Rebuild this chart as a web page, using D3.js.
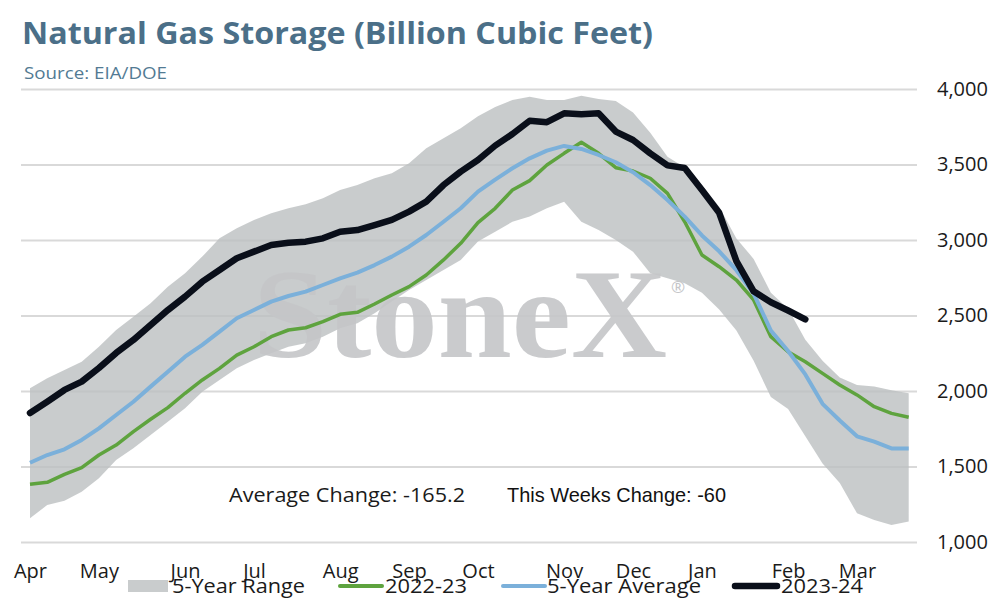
<!DOCTYPE html>
<html>
  <head>
    <meta charset="utf-8">
    <title>Natural Gas Storage</title>
    <script src="https://cdn.jsdelivr.net/npm/d3@7"></script>
    <style>
      body { margin: 0; background: #fff; }
      text { font-family: "Open Sans", sans-serif; }
    </style>
  </head>
  <body>
    <svg id="chart" width="995" height="607"></svg>
    <script>

      // Weekly storage, Bcf. Week 0 = first week of April
      var weeks = d3.range(52);

      var rangeLow = [1157, 1245, 1274, 1333, 1422, 1543, 1621, 1709, 1797, 1885,
        1995, 2073, 2150, 2205, 2250, 2293, 2316, 2360, 2415, 2448,
        2515, 2592, 2669, 2735, 2801, 2868, 2990, 3055, 3121, 3155,
        3210, 3254, 3121, 3066, 3000, 2923, 2779, 2746, 2713, 2650,
        2540, 2400, 2200, 1960, 1880, 1700, 1520, 1390, 1190, 1145,
        1113, 1135];

      var rangeHigh = [2018, 2084, 2139, 2194, 2293, 2404, 2492, 2581, 2691, 2779,
        2890, 3011, 3077, 3133, 3177, 3210, 3236, 3276, 3331, 3364,
        3409, 3442, 3508, 3607, 3674, 3740, 3820, 3880, 3927, 3949,
        3927, 3927, 3956, 3934, 3920, 3845, 3710, 3552, 3480, 3364,
        3220, 3010, 2875, 2650, 2545, 2340, 2200, 2090, 2040, 2030,
        2005, 1985];

      var avg5 = [1525, 1576, 1614, 1676, 1753, 1841, 1929, 2029, 2128, 2227,
        2305, 2393, 2482, 2536, 2592, 2629, 2658, 2702, 2746, 2784,
        2834, 2890, 2956, 3033, 3121, 3210, 3320, 3400, 3475, 3541,
        3592, 3623, 3603, 3563, 3515, 3449, 3364, 3265, 3155, 3030,
        2925, 2800, 2645, 2400, 2265, 2110, 1915, 1805, 1700, 1665,
        1620, 1620];

      var s2223 = [1382, 1395, 1448, 1492, 1576, 1642, 1731, 1813, 1890, 1985,
        2073, 2150, 2238, 2293, 2360, 2404, 2419, 2459, 2508, 2521,
        2576, 2636, 2691, 2768, 2868, 2978, 3115, 3210, 3331, 3393,
        3497, 3574, 3647, 3574, 3479, 3457, 3409, 3309, 3121, 2901,
        2823, 2735, 2603, 2360, 2260, 2194, 2117, 2040, 1974, 1896,
        1852, 1826];

      var s2324 = [1854, 1929, 2007, 2062, 2152, 2252, 2338, 2437, 2536, 2625,
        2724, 2801, 2879, 2923, 2967, 2982, 2989, 3011, 3055, 3066,
        3099, 3133, 3188, 3254, 3364, 3453, 3530, 3625, 3702, 3790,
        3780, 3839, 3833, 3839, 3718, 3662, 3574, 3494, 3477, 3331,
        3180, 2860, 2660, 2588, 2533, 2475];

      var monthLabels = ["Apr", "May", "Jun", "Jul", "Aug", "Sep", "Oct", "Nov", "Dec", "Jan", "Feb", "Mar"];
      var monthWeeks = [0, 4, 9, 13, 18, 22, 26, 31, 35, 39, 44, 48];
      var yTicks = [1000, 1500, 2000, 2500, 3000, 3500, 4000];

      var svg = d3.select("#chart");

      // Scales
      var x = d3.scaleLinear().domain([0, 51]).range([30, 908.7]);
      var y = d3.scaleLinear().domain([1000, 4000]).range([542, 89]);
      var gridLeft = 21, gridRight = 917;

      // Title and source
      svg.append("text")
        .attr("x", 22).attr("y", 44)
        .attr("textLength", 631).attr("lengthAdjust", "spacingAndGlyphs")
        .style("font-size", "31px").style("font-weight", "bold")
        .attr("fill", "#4b6f88")
        .text("Natural Gas Storage (Billion Cubic Feet)");
      svg.append("text")
        .attr("x", 24).attr("y", 79)
        .attr("textLength", 143).attr("lengthAdjust", "spacingAndGlyphs")
        .style("font-size", "17px")
        .attr("fill", "#527a93")
        .text("Source: EIA/DOE");

      // Gridlines
      var grid = svg.append("g")
        .attr("transform", "translate(" + gridRight + ",0)")
        .call(d3.axisLeft(y).tickValues(yTicks).tickSize(gridRight - gridLeft).tickFormat(""));
      grid.select(".domain").remove();
      grid.selectAll("line").attr("stroke", "#d9d9d9").attr("stroke-width", 2);

      // 5-year range band (semi transparent so gridlines show through)
      var band = d3.area()
        .x(function(d, i) { return x(weeks[i]); })
        .y0(function(d, i) { return y(rangeLow[i]); })
        .y1(function(d, i) { return y(rangeHigh[i]); });
      svg.append("path")
        .datum(rangeHigh)
        .attr("d", band)
        .attr("fill", "#bcbfc0")
        .attr("fill-opacity", 0.8);

      // Watermark
      svg.append("text")
        .attr("x", 253).attr("y", 357)
        .attr("textLength", 414).attr("lengthAdjust", "spacingAndGlyphs")
        .style("font-family", "'Liberation Serif', serif")
        .style("font-size", "126px").style("font-weight", "bold")
        .attr("fill", "#c4c5c8").attr("fill-opacity", 0.9)
        .text("StoneX");
      svg.append("text")
        .attr("x", 671).attr("y", 293)
        .style("font-size", "17px")
        .attr("fill", "#c4c5c8")
        .text("\u00AE");

      // Series lines
      var line = d3.line()
        .x(function(d, i) { return x(weeks[i]); })
        .y(function(d) { return y(d); });

      svg.append("path").datum(s2223).attr("d", line)
        .attr("fill", "none").attr("stroke", "#5ea33e").attr("stroke-width", 3.5)
        .attr("stroke-linejoin", "round");
      svg.append("path").datum(avg5).attr("d", line)
        .attr("fill", "none").attr("stroke", "#7bb0da").attr("stroke-width", 4)
        .attr("stroke-linejoin", "round");
      svg.append("path").datum(s2324).attr("d", line)
        .attr("fill", "none").attr("stroke", "#0a0f1a").attr("stroke-width", 6.5)
        .attr("stroke-linejoin", "round").attr("stroke-linecap", "round");

      // Right value axis
      var yAxis = svg.append("g")
        .attr("transform", "translate(" + gridRight + ",0)")
        .call(d3.axisRight(y).tickValues(yTicks).tickSize(0).tickPadding(20).tickFormat(d3.format(",")));
      yAxis.select(".domain").remove();
      yAxis.selectAll("text")
        .style("font-size", "20px").style("font-family", "'Open Sans', sans-serif")
        .attr("fill", "#1a1a1a");

      // Month axis
      var xAxis = svg.append("g")
        .attr("transform", "translate(0,578)")
        .call(d3.axisBottom(x).tickValues(monthWeeks).tickSize(0)
          .tickFormat(function(d, i) { return monthLabels[i]; }));
      xAxis.select(".domain").remove();
      xAxis.selectAll("text")
        .attr("y", 0).attr("dy", null)
        .style("font-size", "20px").style("font-family", "'Open Sans', sans-serif")
        .attr("fill", "#1a1a1a");

      // Change annotations
      svg.append("text")
        .attr("x", 229).attr("y", 502)
        .attr("textLength", 236).attr("lengthAdjust", "spacingAndGlyphs")
        .style("font-size", "20px").attr("fill", "#1a1a1a")
        .text("Average Change: -165.2");
      svg.append("text")
        .attr("x", 507).attr("y", 502)
        .attr("textLength", 219).attr("lengthAdjust", "spacingAndGlyphs")
        .style("font-size", "21px").style("font-family", "'Liberation Sans', sans-serif")
        .attr("fill", "#111")
        .text("This Weeks Change: -60");

      // Legend
      var legend = svg.append("g");
      legend.append("rect")
        .attr("x", 128).attr("y", 580).attr("width", 40).attr("height", 12)
        .attr("fill", "#c9cccd");
      var legendLines = [
        { x1: 340, x2: 382, color: "#5ea33e", w: 4 },
        { x1: 503, x2: 545, color: "#7bb0da", w: 4 },
        { x1: 735, x2: 777, color: "#0a0f1a", w: 6.5 }
      ];
      legend.selectAll(".lg-line")
        .data(legendLines)
        .enter()
        .append("line")
        .attr("class", "lg-line")
        .attr("x1", function(d) { return d.x1; })
        .attr("x2", function(d) { return d.x2; })
        .attr("y1", 586).attr("y2", 586)
        .attr("stroke", function(d) { return d.color; })
        .attr("stroke-width", function(d) { return d.w; })
        .attr("stroke-linecap", "round");

      var legendTexts = [
        { x: 172, w: 133, label: "5-Year Range" },
        { x: 385, w: 82, label: "2022-23" },
        { x: 547, w: 154, label: "5-Year Average" },
        { x: 781, w: 82, label: "2023-24" }
      ];
      legend.selectAll(".lg-text")
        .data(legendTexts)
        .enter()
        .append("text")
        .attr("class", "lg-text")
        .attr("x", function(d) { return d.x; })
        .attr("y", 593)
        .attr("textLength", function(d) { return d.w; })
        .attr("lengthAdjust", "spacingAndGlyphs")
        .style("font-size", "20px")
        .attr("fill", "#1a1a1a")
        .text(function(d) { return d.label; });

    </script>
  </body>
</html>
